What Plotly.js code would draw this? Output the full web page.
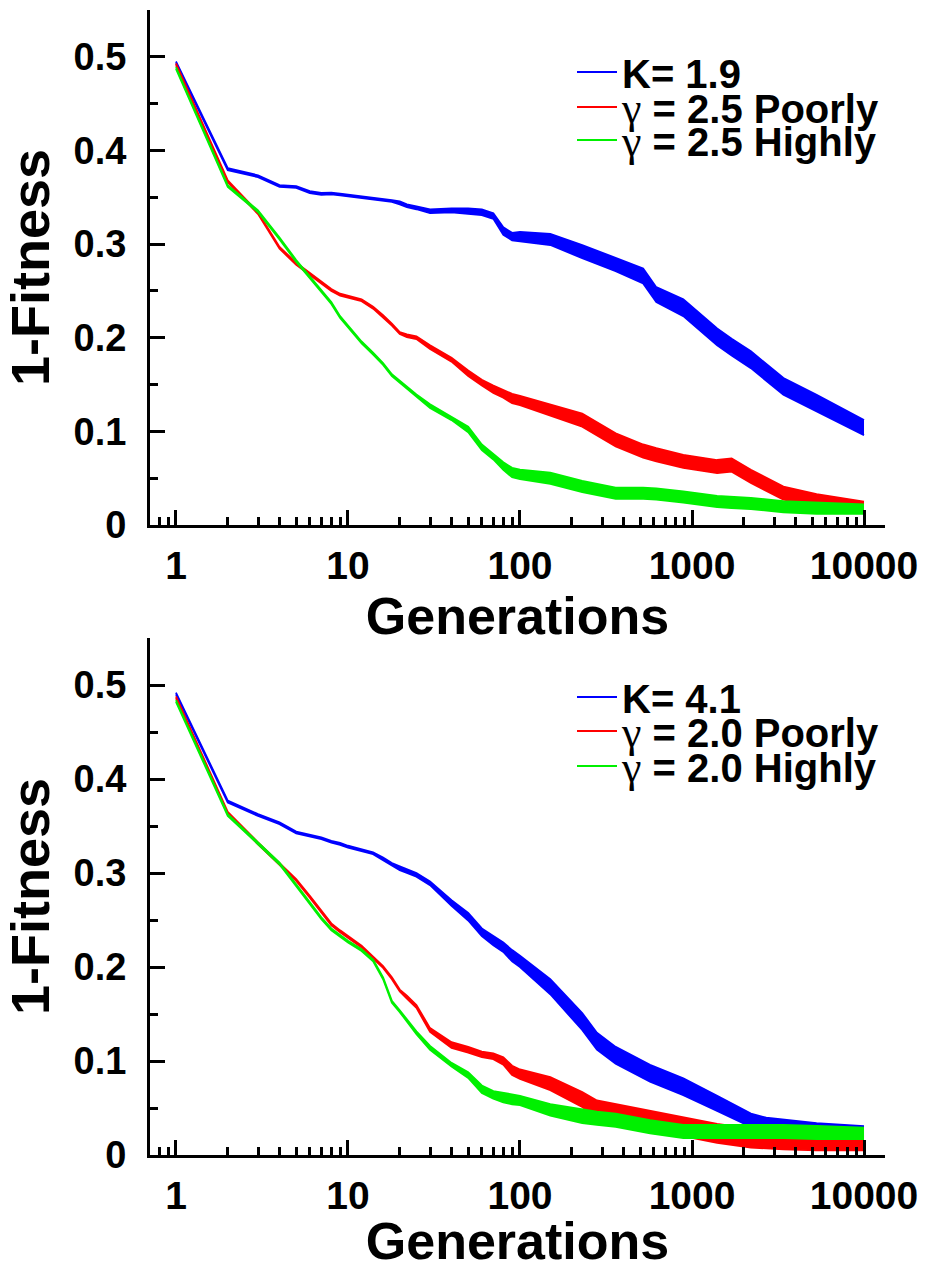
<!DOCTYPE html>
<html>
<head>
<meta charset="utf-8">
<script src="https://cdn.plot.ly/plotly-3.0.1.min.js"></script>
<style>html,body{margin:0;padding:0;background:#fff;}#chart{width:927px;height:1270px;}</style>
</head>
<body>
<div id="chart"></div>
<script>
// ---------- Data ----------
// Top panel
var gensTop = [1,2,3,4,5,6,7,8,9,10,12,14,16,18,20,22,25,30,40,50,60,70,80,90,100,150,230,360,520,620,890,1400,1700,2200,3400,5300,10000];
var kTopMean    = [0.494,0.380,0.3725,0.362,0.361,0.3555,0.3537,0.354,0.353,0.352,0.350,0.349,0.347,0.346,0.344,0.341,0.3387,0.335,0.336,0.335,0.334,0.330,0.314,0.308,0.308,0.305,0.292,0.278,0.266,0.246,0.232,0.201,0.190,0.1765,0.148,0.130,0.104];
var kTopNoise   = [0.001,0.001,0.001,0.001,0.001,0.001,0.001,0.001,0.001,0.001,0.001,0.001,0.001,0.001,0.0015,0.0015,0.0015,0.002,0.002,0.003,0.003,0.003,0.004,0.004,0.005,0.006,0.007,0.007,0.008,0.008,0.009,0.009,0.009,0.009,0.009,0.009,0.008];
var poorTopMean = [0.492,0.367,0.333,0.296,0.279,0.268,0.259,0.251,0.246,0.244,0.240,0.232,0.223,0.214,0.205,0.202,0.200,0.190,0.1765,0.162,0.152,0.145,0.140,0.135,0.133,0.123,0.112,0.091,0.079,0.075,0.068,0.0624,0.064,0.052,0.034,0.027,0.020];
var poorTopNoise= [0.001,0.001,0.001,0.001,0.001,0.001,0.001,0.001,0.001,0.001,0.001,0.001,0.001,0.001,0.001,0.0015,0.0015,0.002,0.002,0.003,0.003,0.004,0.004,0.005,0.005,0.006,0.007,0.007,0.007,0.007,0.007,0.007,0.007,0.007,0.007,0.006,0.005];
var highTopMean = [0.488,0.362,0.335,0.306,0.282,0.265,0.250,0.237,0.222,0.212,0.195,0.183,0.172,0.160,0.153,0.147,0.138,0.127,0.114,0.102,0.083,0.073,0.063,0.056,0.054,0.050,0.041,0.034,0.034,0.033,0.030,0.025,0.024,0.023,0.0196,0.018,0.017];
var highTopNoise= [0.001,0.001,0.001,0.001,0.001,0.001,0.001,0.001,0.001,0.001,0.001,0.001,0.001,0.001,0.001,0.0015,0.0015,0.002,0.002,0.003,0.003,0.003,0.004,0.005,0.005,0.006,0.006,0.006,0.006,0.006,0.006,0.006,0.006,0.006,0.006,0.006,0.005];

// Bottom panel
var gensBot = [1,2,3,4,5,6,7,8,9,10,12,14,16,18,20,22,25,30,40,50,60,70,80,90,100,150,230,280,360,570,890,1400,2200,2700,3400,5300,10000];
var kBotMean    = [0.491,0.376,0.3617,0.353,0.343,0.3394,0.337,0.3333,0.331,0.328,0.3245,0.321,0.315,0.309,0.305,0.302,0.298,0.289,0.268,0.2535,0.237,0.228,0.221,0.212,0.206,0.179,0.142,0.121,0.106,0.087,0.0727,0.055,0.037,0.0337,0.032,0.028,0.0248];
var kBotNoise   = [0.001,0.001,0.001,0.001,0.001,0.001,0.001,0.001,0.001,0.001,0.001,0.001,0.0015,0.0015,0.002,0.002,0.002,0.002,0.003,0.004,0.004,0.005,0.005,0.006,0.006,0.008,0.009,0.009,0.009,0.009,0.009,0.008,0.007,0.006,0.006,0.006,0.006];
var poorBotMean = [0.487,0.364,0.3316,0.310,0.2926,0.2748,0.259,0.2454,0.238,0.2323,0.2216,0.210,0.200,0.188,0.175,0.168,0.158,0.133,0.117,0.112,0.107,0.105,0.100,0.090,0.086,0.076,0.059,0.049,0.044,0.037,0.030,0.023,0.018,0.017,0.016,0.014,0.014];
var poorBotNoise= [0.001,0.001,0.001,0.001,0.001,0.001,0.001,0.001,0.001,0.001,0.001,0.001,0.001,0.001,0.001,0.0015,0.0015,0.002,0.003,0.003,0.003,0.003,0.004,0.005,0.005,0.007,0.008,0.009,0.010,0.010,0.010,0.010,0.010,0.010,0.010,0.009,0.009];
var highBotMean = [0.483,0.3617,0.3316,0.310,0.287,0.2678,0.2518,0.240,0.233,0.227,0.218,0.207,0.188,0.163,0.153,0.143,0.130,0.114,0.096,0.085,0.070,0.064,0.061,0.059,0.058,0.048,0.041,0.039,0.037,0.030,0.025,0.025,0.025,0.025,0.025,0.024,0.023];
var highBotNoise= [0.001,0.001,0.001,0.001,0.001,0.001,0.001,0.001,0.001,0.001,0.001,0.001,0.001,0.001,0.001,0.0015,0.0015,0.002,0.002,0.003,0.004,0.004,0.005,0.005,0.005,0.006,0.007,0.007,0.007,0.007,0.007,0.007,0.007,0.007,0.007,0.007,0.006];

var GAMMA = '<span style="font-family:\'Liberation Serif\';font-weight:normal;font-size:44px">γ</span>';
var seriesNamesTop = ['K= 1.9', GAMMA + ' = 2.5 Poorly', GAMMA + ' = 2.5 Highly'];
var seriesNamesBot = ['K= 4.1', GAMMA + ' = 2.0 Poorly', GAMMA + ' = 2.0 Highly'];
var seriesColors = ['#0000ff', '#ff0000', '#00f000'];

var xTickVals = [1, 10, 100, 1000, 10000];
var xTickText = ['1', '10', '100', '1000', '10000'];
var xMinorVals = [0.8, 0.9, 2, 3, 4, 5, 6, 7, 8, 9, 20, 30, 40, 50, 60, 70, 80, 90, 200, 300, 400, 500, 600, 700, 800, 900, 2000, 3000, 4000, 5000, 6000, 7000, 8000, 9000];
var yTickVals = [0, 0.1, 0.2, 0.3, 0.4, 0.5];
var yTickText = ['0', '0.1', '0.2', '0.3', '0.4', '0.5'];
var yMinorVals = [0.05, 0.15, 0.25, 0.35, 0.45, 0.55];

// ---------- Build traces ----------
var traces = [];
function addSeries(gens, mean, noise, name, color, xa, ya, legendId) {
  var up = mean.map(function (v, i) { return v + noise[i]; });
  var lo = mean.map(function (v, i) { return v - noise[i]; });
  traces.push({x: gens, y: up, xaxis: xa, yaxis: ya, mode: 'lines', name: name,
    line: {color: color, width: 1.8}, legend: legendId, showlegend: true, hoverinfo: 'skip'});
  traces.push({x: gens, y: lo, xaxis: xa, yaxis: ya, mode: 'lines', name: name,
    line: {color: color, width: 1.8}, fill: 'tonexty', fillcolor: color, showlegend: false, hoverinfo: 'skip'});
}
addSeries(gensTop, kTopMean, kTopNoise, seriesNamesTop[0], seriesColors[0], 'x', 'y', 'legend');
addSeries(gensTop, poorTopMean, poorTopNoise, seriesNamesTop[1], seriesColors[1], 'x', 'y', 'legend2');
addSeries(gensTop, highTopMean, highTopNoise, seriesNamesTop[2], seriesColors[2], 'x', 'y', 'legend3');
addSeries(gensBot, kBotMean, kBotNoise, seriesNamesBot[0], seriesColors[0], 'x2', 'y2', 'legend4');
addSeries(gensBot, poorBotMean, poorBotNoise, seriesNamesBot[1], seriesColors[1], 'x2', 'y2', 'legend5');
addSeries(gensBot, highBotMean, highBotNoise, seriesNamesBot[2], seriesColors[2], 'x2', 'y2', 'legend6');

// ---------- Layout ----------
var FONT = 'Liberation Sans, Arial, sans-serif';
var W = 927, H = 1270;
function py(p) { return 1 - p / H; }

function xAxis(anchor) {
  return {
    type: 'log', range: [-0.151, 4.122], domain: [150 / W, 885 / W], anchor: anchor,
    showline: true, linewidth: 3, linecolor: '#000', showgrid: false, zeroline: false,
    ticks: 'inside', ticklen: 15, tickwidth: 3, tickcolor: '#000',
    tickmode: 'array', tickvals: xTickVals, ticktext: xTickText,
    tickfont: {family: FONT, size: 39, weight: 'bold', color: '#000'},
    ticklabelstandoff: 4,
    minor: {tickmode: 'array', tickvals: xMinorVals, ticks: 'inside', ticklen: 8, tickwidth: 3, tickcolor: '#000', showgrid: false},
    title: {text: 'Generations', font: {family: FONT, size: 52, weight: 'bold', color: '#000'}, standoff: 10},
    automargin: false, fixedrange: true
  };
}
function yAxis(anchor, top, bottom) {
  return {
    range: [0, 0.55], domain: [py(bottom), py(top)], anchor: anchor,
    showline: true, linewidth: 3, linecolor: '#000', showgrid: false, zeroline: false,
    ticks: 'inside', ticklen: 15, tickwidth: 3, tickcolor: '#000',
    tickmode: 'array', tickvals: yTickVals, ticktext: yTickText,
    tickfont: {family: FONT, size: 38, weight: 'bold', color: '#000'},
    ticklabelstandoff: 13,
    minor: {tickmode: 'array', tickvals: yMinorVals, ticks: 'inside', ticklen: 8, tickwidth: 3, tickcolor: '#000', showgrid: false},
    title: {text: '1-Fitness', font: {family: FONT, size: 54, weight: 'bold', color: '#000'}, standoff: 14},
    automargin: false, fixedrange: true
  };
}
function legendAt(yPix) {
  return {x: 572 / W, y: py(yPix), xanchor: 'left', yanchor: 'middle', bgcolor: 'rgba(0,0,0,0)', borderwidth: 0,
    font: {family: FONT, size: 40, weight: 'bold', color: '#000'}, itemwidth: 40};
}

var layout = {
  width: W, height: H,
  margin: {l: 0, r: 0, t: 0, b: 0},
  paper_bgcolor: '#fff', plot_bgcolor: '#fff',
  xaxis: xAxis('y'),
  yaxis: yAxis('x', 10, 525),
  xaxis2: xAxis('y2'),
  yaxis2: yAxis('x2', 638, 1155),
  legend: legendAt(72), legend2: legendAt(107), legend3: legendAt(140),
  legend4: legendAt(697), legend5: legendAt(731), legend6: legendAt(766),
  showlegend: true
};

Plotly.newPlot('chart', traces, layout, {displayModeBar: false, staticPlot: true});
</script>
</body>
</html>
